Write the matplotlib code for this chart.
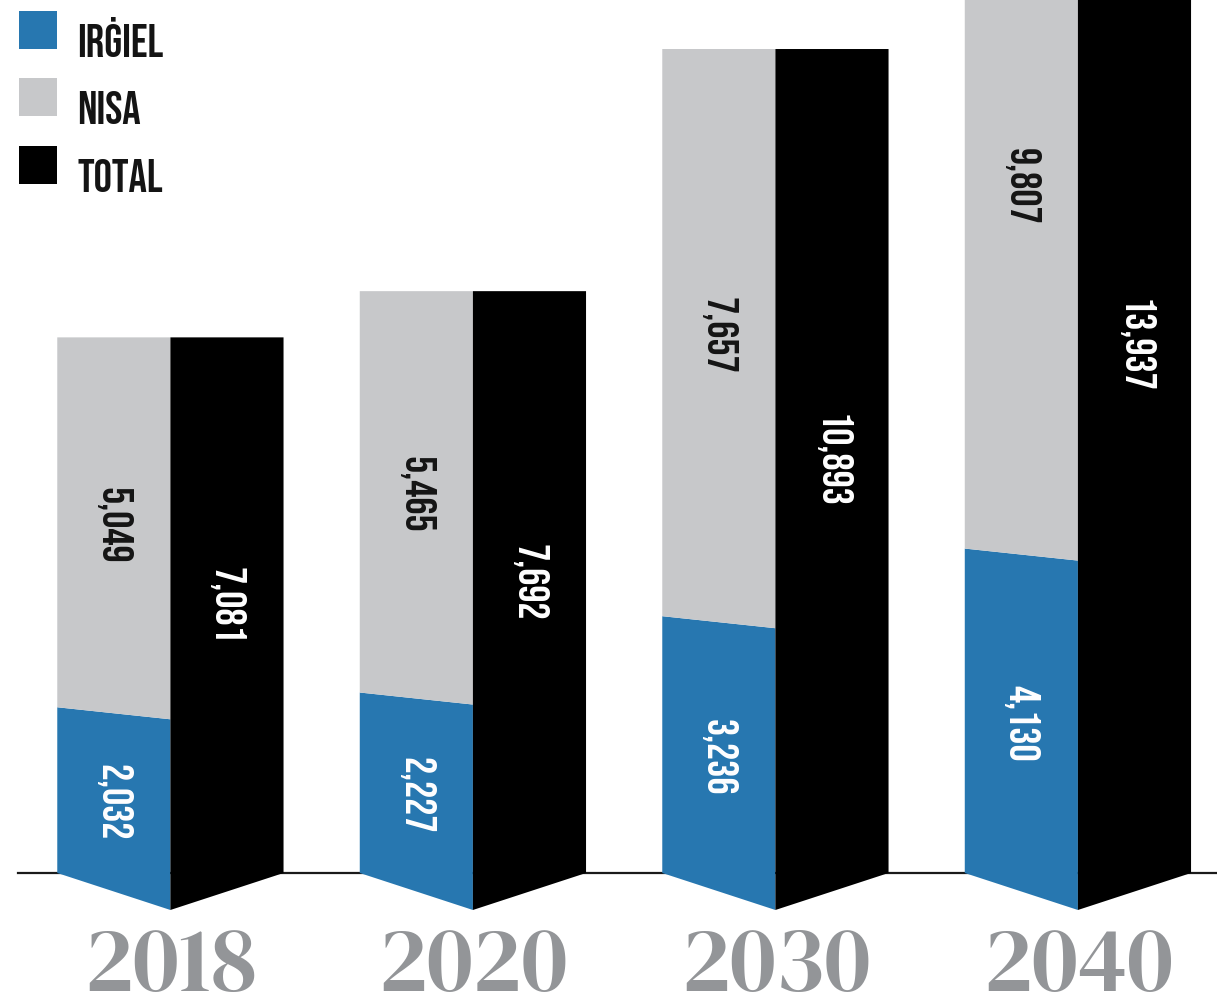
import matplotlib.pyplot as plt
from matplotlib.patches import Rectangle

years = ['2018', '2020', '2030', '2040']
irgiel = [2032, 2227, 3236, 4130]
nisa = [5049, 5465, 7657, 9807]
total = [7081, 7692, 10893, 13937]
series = ['IRĠIEL', 'NISA', 'TOTAL']

blue = '#2777b0'
grey = '#c7c8ca'
black = '#000000'
yeargrey = '#939598'
ink = '#141414'

W = 0.374        # width of one bar (group spacing = 1)
DROP = 489       # how far the slanted bottom drops below 0
TILT = 159       # slant of the blue/grey boundary

lblfont = ['Bebas Neue', 'DejaVu Sans']
yearfont = ['DM Serif Display', 'Liberation Serif']

fig = plt.figure(figsize=(12.17, 9.96), dpi=100)
ax = fig.add_axes([0, 0, 1, 1])
ax.set_xlim(-0.5633, 3.4598)
ax.set_ylim(-1626, 11541)
ax.axis('off')

ax.axhline(0, xmin=0.0148, xmax=1, color='#1a1a1a', lw=1.6, zorder=1)

for i in range(len(years)):
    L, D, R = i - W, i, i + W
    b = irgiel[i]
    top = irgiel[i] + nisa[i]
    # stacked bar: irgiel + nisa
    ax.fill([L, D, D, L], [0, -DROP, b, b + TILT], color=blue, lw=0, zorder=2)
    ax.fill([L, D, D, L], [b + TILT, b, top, top], color=grey, lw=0, zorder=2)
    # total bar
    ax.fill([D, R, R, D], [-DROP, 0, total[i], total[i]], color=black, lw=0, zorder=2)

    yb = (-DROP / 2 + b + TILT / 2) / 2
    yg = (b + TILT / 2 + top) / 2
    ax.text(i - W / 2, yb, f'{irgiel[i]:,}', rotation=270, ha='center', va='center',
            color='white', fontsize=31, family=lblfont, zorder=3)
    ax.text(i - W / 2, yg, f'{nisa[i]:,}', rotation=270, ha='center', va='center',
            color=ink, fontsize=31, family=lblfont, zorder=3)
    ax.text(i + W / 2, total[i] / 2, f'{total[i]:,}', rotation=270, ha='center', va='center',
            color='white', fontsize=31, family=lblfont, zorder=3)

    ax.text(i, -1560, years[i], ha='center', va='baseline', color=yeargrey,
            fontsize=66, family=yearfont)

# legend, drawn by hand so squares and text sit like the original
FW, FH = 1217, 996
for k, (name, col) in enumerate(zip(series, [blue, grey, black])):
    y0 = 11 + k * 67.5
    fig.patches.append(Rectangle((19 / FW, 1 - (y0 + 38) / FH), 38 / FW, 38 / FH,
                                 transform=fig.transFigure, color=col, lw=0))
    fig.text(77 / FW, 1 - (y0 + 46) / FH, name, ha='left', va='baseline',
             color=ink, fontsize=33, family=lblfont)

fig.savefig('out.png', dpi=100)
